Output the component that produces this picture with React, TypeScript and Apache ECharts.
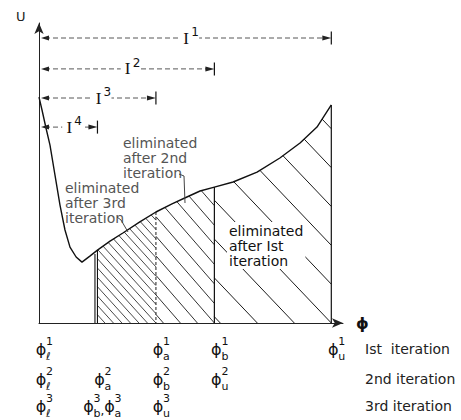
import React, { useEffect, useRef } from 'react';
import * as echarts from 'echarts';

// Curve U(phi)
const phi = [0, 1.03, 2.39, 3.76, 5.47, 7.18, 8.89, 10.6, 12.7, 14.7, 17.4, 20, 24.3, 28.7, 34.5, 40, 45.5, 50.6, 55.1, 60, 66.4, 74.6, 82.4, 89.3, 95.1, 100];
const U = [75.3, 71.0, 65.0, 59.3, 49.3, 39.3, 31.0, 25.3, 22.0, 20.3, 22.3, 24.3, 27.3, 30.0, 33.7, 37.0, 39.7, 42.0, 44.0, 45.3, 47.0, 50.3, 55.0, 60.0, 65.3, 72.7];

// Eliminated regions (1st, 2nd, 3rd iteration)
const elimFrom = [60, 40, 20];
const elimTo = [100, 60, 40];

// Vertical boundary lines
const boundaryX = [20, 40, 60, 100];

// Interval arrows I^1..I^4
const intervalEnd = [100, 60, 40, 20];
const intervalLevel = [95.0, 84.7, 75.0, 65.3];
const intervalSup = ['1', '2', '3', '4'];

// Labels below axis
const labelX = [0, 40, 60, 100, 0, 20, 40, 60, 0, 20, 40];
const labelRow = [0, 0, 0, 0, 1, 1, 1, 1, 2, 2, 2];
const labelSub = ['ℓ', 'a', 'b', 'u', 'ℓ', 'a', 'b', 'u', 'ℓ', 'b,a', 'u'];
const labelSup = ['1', '1', '1', '1', '2', '2', '2', '2', '3', '3', '3'];
const rowTitles = ['Ist  iteration', '2nd iteration', '3rd iteration'];

const FONT = '"DejaVu Sans", sans-serif';
const ROW_OFFSETS = [26, 56, 83];
const HATCH = [
  { spacing: 37, slope: 1.05, width: 1.0 },
  { spacing: 17, slope: 1.15, width: 0.9 },
  { spacing: 8.5, slope: 1.1, width: 0.8 },
];

function curvePixels(api: any) {
  return phi.map((x, j) => api.coord([x, U[j]]));
}
function curveYAt(pts: number[][], x: number) {
  if (x <= pts[0][0]) return pts[0][1];
  for (let j = 1; j < pts.length; j++) {
    if (x <= pts[j][0]) {
      const t = (x - pts[j - 1][0]) / (pts[j][0] - pts[j - 1][0]);
      return pts[j - 1][1] + t * (pts[j][1] - pts[j - 1][1]);
    }
  }
  return pts[pts.length - 1][1];
}

function hatchRender(params: any, api: any) {
  const i = params.dataIndex;
  const pts = curvePixels(api);
  const base = api.coord([0, 0])[1];
  const xa = api.coord([elimFrom[i], 0])[0];
  const xb = api.coord([elimTo[i], 0])[0];
  const { spacing, slope, width } = HATCH[i];
  let top = Infinity;
  for (let x = xa; x <= xb; x += 1) top = Math.min(top, curveYAt(pts, x));
  top = Math.min(top, curveYAt(pts, xb));
  const span = (base - top) / slope;
  const children: any[] = [];
  for (let bx = xb + Math.floor(span / spacing) * spacing; bx > xa; bx -= spacing) {
    const ly = (x: number) => base - slope * (bx - x);
    const end = Math.min(xb, bx);
    if (ly(end) < curveYAt(pts, end)) continue;
    let start = xa;
    if (ly(xa) < curveYAt(pts, xa)) {
      let lo = xa, hi = end;
      for (let it = 0; it < 40; it++) {
        const m = (lo + hi) / 2;
        if (ly(m) >= curveYAt(pts, m)) hi = m; else lo = m;
      }
      start = hi;
    }
    children.push({
      type: 'line',
      shape: { x1: start, y1: ly(start), x2: end, y2: ly(end) },
      style: { stroke: '#1a1a1a', lineWidth: width },
    });
  }
  return { type: 'group', children };
}

function boundaryRender(params: any, api: any) {
  const i = params.dataIndex;
  const pts = curvePixels(api);
  const base = api.coord([0, 0])[1];
  const x = api.coord([boundaryX[i], 0])[0];
  const yTop = curveYAt(pts, x);
  const children: any[] = [];
  if (i === 0) {
    children.push({ type: 'line', shape: { x1: x, y1: yTop, x2: x, y2: base }, style: { stroke: '#111', lineWidth: 1.1 } });
    const x2 = x - 2.5;
    children.push({ type: 'line', shape: { x1: x2, y1: curveYAt(pts, x2) + 2, x2: x2, y2: base }, style: { stroke: '#111', lineWidth: 1.1 } });
  } else if (i === 1) {
    children.push({ type: 'line', shape: { x1: x, y1: yTop, x2: x, y2: base }, style: { stroke: '#333', lineWidth: 1.1, lineDash: [3, 2] } });
  } else {
    children.push({ type: 'line', shape: { x1: x, y1: yTop, x2: x, y2: base }, style: { stroke: '#111', lineWidth: 1.2 } });
  }
  return { type: 'group', children };
}

function intervalRender(params: any, api: any) {
  const i = params.dataIndex;
  const p0 = api.coord([0, intervalLevel[i]]);
  const p1 = api.coord([intervalEnd[i], intervalLevel[i]]);
  const y = p0[1];
  const x0 = p0[0] + 2;
  const x1 = p1[0];
  const mx = (x0 + x1) / 2;
  return {
    type: 'group',
    children: [
      { type: 'line', shape: { x1: x0 + 4, y1: y, x2: x1 - 6, y2: y }, style: { stroke: '#444', lineWidth: 0.9, lineDash: [5, 3] } },
      { type: 'polygon', shape: { points: [[x0, y], [x0 + 8, y - 2.5], [x0 + 8, y + 2.5]] }, style: { fill: '#222' } },
      { type: 'polygon', shape: { points: [[x1, y], [x1 - 9, y - 2.5], [x1 - 9, y + 2.5]] }, style: { fill: '#222' } },
      { type: 'line', shape: { x1: x1, y1: y - 6.5, x2: x1, y2: y + 6.5 }, style: { stroke: '#111', lineWidth: 1.2 } },
      { type: 'rect', shape: { x: mx - 7, y: y - 9, width: 20, height: 18 }, style: { fill: '#fff' } },
      { type: 'text', x: mx, y: y, style: { text: 'I', fill: '#111', font: '17px "Liberation Serif", serif', align: 'center', verticalAlign: 'middle' } },
      { type: 'text', x: mx + 5, y: y - 6, style: { text: intervalSup[i], fill: '#111', font: '12px ' + FONT, align: 'left', verticalAlign: 'middle' } },
    ],
  };
}

function labelRender(params: any, api: any) {
  const i = params.dataIndex;
  const [px, base] = api.coord([labelX[i], 0]);
  const cy = base + ROW_OFFSETS[labelRow[i]];
  const subs = labelSub[i].split(',');
  const n = subs.length;
  const children: any[] = [];
  subs.forEach((s, k) => {
    const cx = px + 2 + (n === 1 ? 0 : k === 0 ? -11 : 10);
    children.push({ type: 'text', x: cx, y: cy, style: { text: 'ϕ', fill: '#111', font: '16px ' + FONT, align: 'center', verticalAlign: 'middle' } });
    children.push({ type: 'text', x: cx + 5, y: cy - 8, style: { text: labelSup[i], fill: '#111', font: '11px ' + FONT, align: 'left', verticalAlign: 'middle' } });
    children.push({ type: 'text', x: cx + 5, y: cy + 7, style: { text: s, fill: '#111', font: '11px ' + FONT, align: 'left', verticalAlign: 'middle' } });
    if (k < n - 1) {
      children.push({ type: 'text', x: cx + 12, y: cy + 5, style: { text: ',', fill: '#111', font: '12px ' + FONT, align: 'left', verticalAlign: 'middle' } });
    }
  });
  return { type: 'group', children };
}

export default function App() {
  const ref = useRef<HTMLDivElement>(null);
  useEffect(() => {
    if (!ref.current) return;
    const chart = echarts.init(ref.current, null, { renderer: 'svg' });
    const txt = (x: number, y: number, text: string, extra: any = {}) => ({
      type: 'text', x, y, z: 100,
      style: { text, fill: '#222', font: '14px ' + FONT, verticalAlign: 'top', lineHeight: 15, ...extra },
    });
    chart.setOption({
      animation: false,
      backgroundColor: '#fff',
      grid: { left: 39, top: 23, width: 304, height: 300 },
      xAxis: {
        type: 'value', min: 0, max: 104,
        axisLine: { show: true, symbol: ['none', 'arrow'], symbolSize: [7, 11], lineStyle: { color: '#222', width: 1 } },
        axisTick: { show: false }, axisLabel: { show: false }, splitLine: { show: false },
      },
      yAxis: {
        type: 'value', min: 0, max: 100,
        axisLine: { show: true, symbol: ['none', 'arrow'], symbolSize: [7, 11], lineStyle: { color: '#222', width: 1 } },
        axisTick: { show: false }, axisLabel: { show: false }, splitLine: { show: false },
      },
      series: [
        {
          type: 'custom', silent: true, z: 1,
          data: elimFrom.map((f, i) => [f, elimTo[i]]),
          renderItem: hatchRender,
        },
        {
          type: 'custom', silent: true, z: 2,
          data: boundaryX.map((x) => [x, 0]),
          renderItem: boundaryRender,
        },
        {
          type: 'line', silent: true, z: 3,
          data: phi.map((x, i) => [x, U[i]]),
          showSymbol: false, smooth: false,
          lineStyle: { color: '#111', width: 1.4 },
        },
        {
          type: 'custom', silent: true, z: 4,
          data: intervalEnd.map((e, i) => [e, intervalLevel[i]]),
          renderItem: intervalRender,
        },
        {
          type: 'custom', silent: true, z: 4, clip: false,
          data: labelX.map((x) => [x, 0]),
          renderItem: labelRender,
        },
      ],
      graphic: [
        txt(16, 9, 'U', { font: '13px ' + FONT }),
        txt(356, 316, 'ϕ', { font: 'bold 16px ' + FONT, fill: '#111' }),
        ...rowTitles.map((t, i) => txt(365, 323 + ROW_OFFSETS[i] - 8, t, { fill: '#222' })),
        txt(123, 135, 'eliminated\nafter 2nd\niteration', { fill: '#555' }),
        txt(65, 180, 'eliminated\nafter 3rd\niteration', { fill: '#555' }),
        txt(227, 222, 'eliminated\nafter Ist\niteration', { fill: '#111', backgroundColor: '#fff', padding: [1, 2] }),
        { type: 'polyline', z: 100, shape: { points: [[179, 174], [184, 176], [185, 203]] }, style: { stroke: '#444', lineWidth: 1, fill: 'none' } },
        { type: 'polyline', z: 100, shape: { points: [[117, 217], [121, 220], [128, 232]] }, style: { stroke: '#444', lineWidth: 1, fill: 'none' } },
      ],
    });
    return () => chart.dispose();
  }, []);
  return <div ref={ref} style={{ position: 'fixed', left: 0, top: 0, width: 461, height: 420 }} />;
}
